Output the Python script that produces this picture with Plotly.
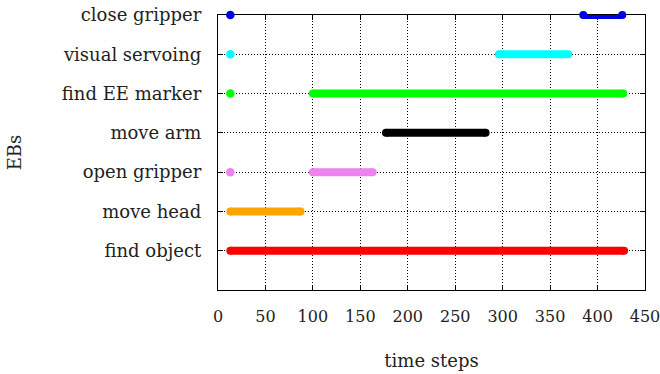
import plotly.graph_objects as go

ebs = ["find object", "move head", "open gripper", "move arm",
       "find EE marker", "visual servoing", "close gripper"]
colors = ["#ff0000", "#ffa500", "#ee82ee", "#000000",
          "#00ff00", "#00ffff", "#0000e8"]
starts = [13, 13, 100, 177, 100, 296, 385]
ends = [428, 87, 163, 282, 427, 369, 426]
dot_x = [None, None, 13, None, 13, 13, 13]
x_ticks = [0, 50, 100, 150, 200, 250, 300, 350, 400, 450]

FONT = "DejaVu Serif"
TXT = "#222"

fig = go.Figure()
for i, name in enumerate(ebs):
    yv = i + 1
    mid = (starts[i] + ends[i]) / 2
    half = (ends[i] - starts[i]) / 2
    # thick segment drawn as a symmetric horizontal error bar (not clipped at the frame)
    fig.add_trace(go.Scatter(
        x=[mid], y=[yv], mode="markers",
        marker=dict(color=colors[i], size=1, opacity=0),
        error_x=dict(type="data", array=[half], symmetric=True,
                     thickness=8, width=0, color=colors[i]),
        cliponaxis=False, showlegend=False, hoverinfo="skip"))
    # rounded ends
    fig.add_trace(go.Scatter(
        x=[starts[i], ends[i]], y=[yv, yv], mode="markers",
        marker=dict(color=colors[i], size=8),
        cliponaxis=False, showlegend=False, hoverinfo="skip"))
    if dot_x[i] is not None:
        fig.add_trace(go.Scatter(
            x=[dot_x[i]], y=[yv], mode="markers",
            marker=dict(color=colors[i], size=8.5),
            cliponaxis=False, showlegend=False, hoverinfo="skip"))

axis_common = dict(
    showline=True, linecolor="black", linewidth=1.3, mirror="allticks",
    ticks="inside", ticklen=5, tickwidth=1, tickcolor="black",
    showgrid=True, gridcolor="black", gridwidth=1, griddash="1px,2px",
    zeroline=False, automargin=False, ticklabeloverflow="allow",
    layer="below traces",
)

fig.update_xaxes(
    range=[0, 450], tickvals=x_ticks, ticktext=[str(v) for v in x_ticks],
    ticklabelstandoff=12, tickfont=dict(family=FONT, size=16, color=TXT),
    title=dict(text="time steps", font=dict(family=FONT, size=18, color=TXT), standoff=29),
    **axis_common)
fig.update_yaxes(
    range=[0, 7], tickvals=list(range(1, 8)), ticktext=ebs,
    ticklabelstandoff=12, tickfont=dict(family=FONT, size=18, color=TXT),
    title=dict(text="EBs", font=dict(family=FONT, size=18, color=TXT), standoff=35),
    **axis_common)

fig.update_layout(
    width=660, height=374,
    margin=dict(l=218, r=15, t=15, b=84),
    plot_bgcolor="white", paper_bgcolor="white",
    font=dict(family=FONT, size=16, color=TXT),
)

fig.write_html("out.html", config={"displayModeBar": False},
               post_script="document.body.style.margin='0';")
